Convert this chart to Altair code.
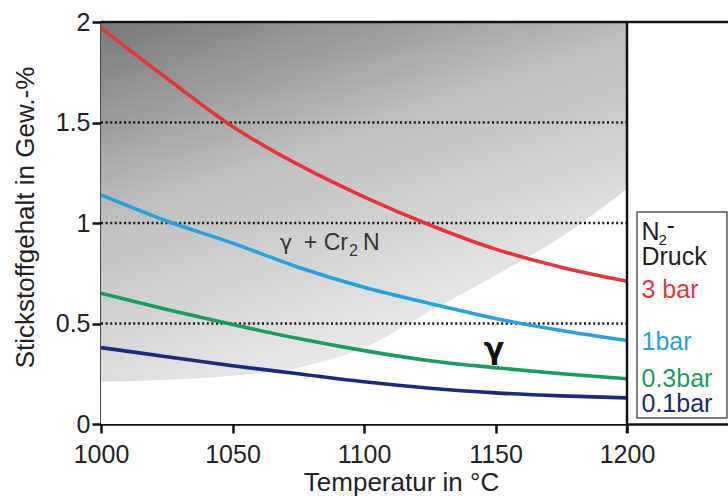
import altair as alt
import pandas as pd

# ---- data ----
temps = [1000, 1025, 1050, 1075, 1100, 1125, 1150, 1175, 1200]
n_3bar = [1.97, 1.72, 1.48, 1.29, 1.13, 0.99, 0.87, 0.78, 0.71]
n_1bar = [1.14, 1.01, 0.90, 0.78, 0.68, 0.60, 0.525, 0.465, 0.415]
n_03bar = [0.65, 0.57, 0.495, 0.425, 0.365, 0.315, 0.28, 0.25, 0.225]
n_01bar = [0.38, 0.335, 0.29, 0.25, 0.21, 0.178, 0.155, 0.14, 0.13]
phase_boundary = [0.21, 0.22, 0.24, 0.28, 0.38, 0.56, 0.74, 0.93, 1.17]

series_names = ["3 bar", "1bar", "0.3bar", "0.1bar"]
series_colors = ["#e4363a", "#29a0dc", "#1d9a5e", "#1b2a78"]
grid_values = [0.5, 1.0, 1.5]
x_ticks = [1000, 1050, 1100, 1150, 1200]
y_ticks = [0, 0.5, 1, 1.5, 2]

X_DOM = [1000, 1238.4]
Y_DOM = [0, 2]
W, H = 627, 402

xs = alt.Scale(domain=X_DOM, nice=False, zero=False)
ys = alt.Scale(domain=Y_DOM, nice=False)

rows = []
for name, vals in zip(series_names, [n_3bar, n_1bar, n_03bar, n_01bar]):
    for t, v in zip(temps, vals):
        rows.append({"T": t, "N": v, "Druck": name})
curves = pd.DataFrame(rows)
bound = pd.DataFrame({"T": temps, "B": phase_boundary})

FONT = "Liberation Sans"
x_axis = alt.Axis(values=x_ticks, format="d", title="Temperatur in °C", grid=False,
                  tickSize=9, tickWidth=2.5, tickColor="#111", domainColor="#111",
                  domainWidth=2.5, labelFontSize=25, labelPadding=9, labelColor="#222",
                  labelFlush=False, labelOverlap=False,
                  labelFont=FONT, titleFont=FONT,
                  titleFontSize=26, titleFontWeight="normal", titleColor="#222",
                  titleX=300, titleY=66, titleBaseline="alphabetic", titleAlign="center")
y_axis = alt.Axis(values=y_ticks, format="~g", title="Stickstoffgehalt in Gew.-%", grid=False,
                  tickSize=9, tickWidth=2.5, tickColor="#111", domainColor="#111",
                  domainWidth=2.5, labelFontSize=25, labelPadding=2, labelColor="#222",
                  labelFlush=False, labelOverlap=False,
                  labelFont=FONT, titleFont=FONT,
                  titleFontSize=26, titleFontWeight="normal", titleColor="#222",
                  titleAngle=270, titleX=-68, titleY=195, titleBaseline="alphabetic",
                  titleAlign="center")

base = alt.Chart(pd.DataFrame({"a": [0]}))

# gray gradient background (two-phase field)
bg = base.mark_rect(
    color=alt.Gradient(
        gradient="linear",
        stops=[alt.GradientStop(color="#787878", offset=0),
               alt.GradientStop(color="#bdbdbd", offset=0.4),
               alt.GradientStop(color="#dedede", offset=0.75),
               alt.GradientStop(color="#f5f5f5", offset=1)],
        x1=0, y1=0, x2=0.45, y2=1),
).encode(
    x=alt.X(datum=1000, scale=xs, axis=x_axis),
    x2=alt.datum(1200),
    y=alt.Y(datum=0, scale=ys, axis=y_axis),
    y2=alt.datum(2),
)

# white gamma field
gamma = alt.Chart(bound).mark_area(color="#ffffff", interpolate="monotone").encode(
    x=alt.X("T:Q", scale=xs), y=alt.Y("B:Q", scale=ys), y2=alt.datum(0)
)

grid = alt.Chart(pd.DataFrame({"g": grid_values})).mark_rule(
    strokeDash=[2, 2.6], strokeWidth=2.6, color="#1a1a1a"
).encode(x=alt.X(datum=1000, scale=xs), x2=alt.datum(1200), y=alt.Y("g:Q", scale=ys))

lines = alt.Chart(curves).mark_line(strokeWidth=3.6, interpolate="monotone").encode(
    x=alt.X("T:Q", scale=xs), y=alt.Y("N:Q", scale=ys),
    color=alt.Color("Druck:N", scale=alt.Scale(domain=series_names, range=series_colors), legend=None),
    detail="Druck:N",
)

# frame lines
top_line = base.mark_rule(color="#111", strokeWidth=2.5).encode(
    x=alt.X(datum=X_DOM[0], scale=xs), x2=alt.datum(X_DOM[1]), y=alt.Y(datum=2, scale=ys))
right_line = base.mark_rule(color="#111", strokeWidth=2.5).encode(
    x=alt.X(datum=1200, scale=xs), y=alt.value(0), y2=alt.value(H + 9))

# in-plot labels
def txt(x, y, t, font=FONT, **kw):
    return alt.Chart(pd.DataFrame({"x": [x], "y": [y], "t": [t]})).mark_text(font=font, **kw).encode(
        x=alt.X("x:Q", scale=xs), y=alt.Y("y:Q", scale=ys), text="t:N")

ann = [
    txt(1070.3, 0.866, "γ", font="DejaVu Sans", align="center", baseline="alphabetic",
        fontSize=21, color="#333"),
    txt(1093.9, 0.866, "+ Cr", align="right", baseline="alphabetic", fontSize=23, color="#333"),
    txt(1093.9, 0.866, "2", align="left", baseline="alphabetic", fontSize=16, dx=1, dy=6, color="#333"),
    txt(1093.9, 0.866, "N", align="left", baseline="alphabetic", fontSize=23, dx=15, color="#333"),
    txt(1149.4, 0.368, "γ", font="DejaVu Sans", align="center", baseline="middle",
        fontSize=30, fontWeight="bold", color="#111"),
]

# legend box
legend_box = base.mark_rect(fill="#ffffff", stroke="#555", strokeWidth=1.5).encode(
    x=alt.X(datum=1203.8, scale=xs), x2=alt.datum(1238.0),
    y=alt.Y(datum=1.055, scale=ys), y2=alt.datum(0.03))

leg_x = 1205.5
legend_title = [
    txt(leg_x, 0.915, "N", align="left", baseline="alphabetic", fontSize=25, color="#222"),
    txt(leg_x, 0.915, "2", align="left", baseline="alphabetic", fontSize=15, dx=17, dy=5, color="#222"),
    txt(leg_x, 0.915, "-", align="left", baseline="alphabetic", fontSize=25, dx=25, dy=-6, color="#222"),
    txt(leg_x, 0.792, "Druck", align="left", baseline="alphabetic", fontSize=25, color="#222"),
]
leg_y = [0.627, 0.368, 0.186, 0.058]
legend_labels = alt.Chart(pd.DataFrame({"x": [leg_x] * 4, "y": leg_y, "t": series_names})).mark_text(
    font=FONT, align="left", baseline="alphabetic", fontSize=25
).encode(
    x=alt.X("x:Q", scale=xs), y=alt.Y("y:Q", scale=ys), text="t:N",
    color=alt.Color("t:N", scale=alt.Scale(domain=series_names, range=series_colors), legend=None),
)

chart = alt.layer(
    bg, gamma, grid, lines, top_line, right_line, *ann, legend_box, *legend_title, legend_labels
).properties(
    width=W, height=H, autosize="none",
    padding={"left": 101, "top": 22, "right": 0, "bottom": 73},
).configure_view(stroke=None).configure(background="#ffffff")

chart.save("out.html", embed_options={"renderer": "svg", "actions": False})
